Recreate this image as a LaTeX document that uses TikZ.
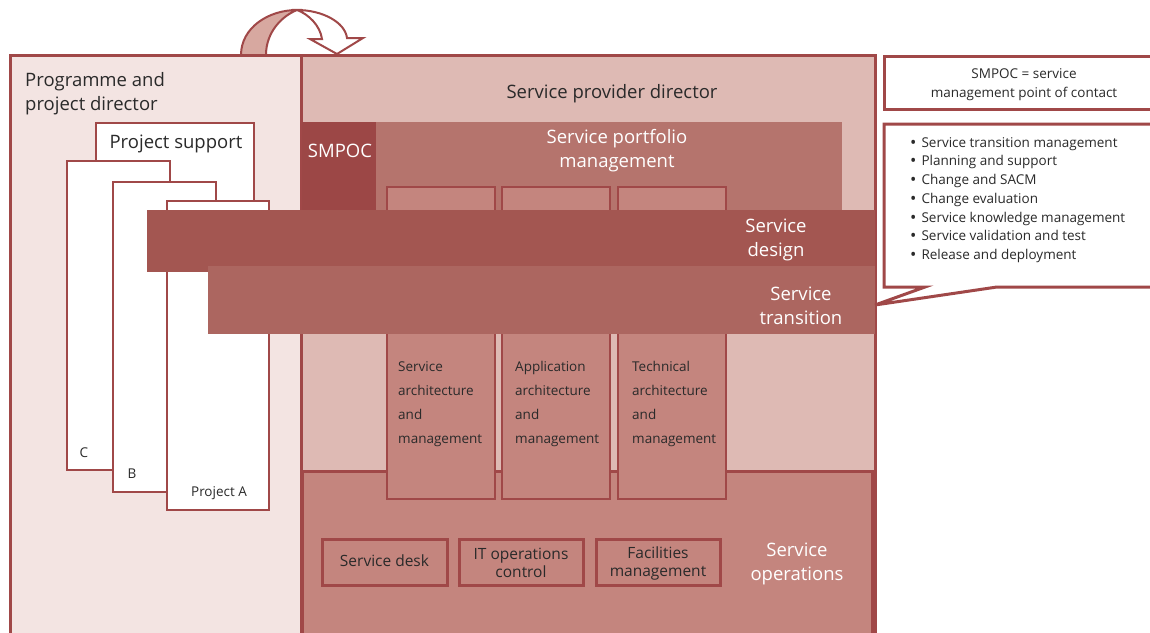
\documentclass[tikz,border=0pt]{standalone}
\usepackage{fontspec}
\setmainfont{Open Sans}
\definecolor{bord}{HTML}{A04848}
\definecolor{leftfill}{HTML}{F3E4E2}
\definecolor{rightfill}{HTML}{DEBAB4}
\definecolor{smpocfill}{HTML}{9C4746}
\definecolor{portfill}{HTML}{B5746D}
\definecolor{colfill}{HTML}{C4857E}
\definecolor{desfill}{HTML}{A35651}
\definecolor{transfill}{HTML}{AC6660}
\definecolor{arrowfill}{HTML}{D7A8A0}
\definecolor{txt}{HTML}{2A2A2A}
\tikzset{
  frame/.style={draw=bord, line width=3pt},
  thinframe/.style={draw=bord, line width=2pt},
  big/.style={font=\fontsize{18.5}{24}\selectfont, align=center, inner sep=0pt, yshift=-2.5pt},
  mid/.style={font=\fontsize{15.5}{18}\selectfont, align=center, inner sep=0pt, text=txt},
  small/.style={font=\fontsize{13.5}{18.7}\selectfont, inner sep=0pt, text=txt, yshift=-2pt},
  coltext/.style={font=\fontsize{13.5}{24}\selectfont, align=left, inner sep=0pt, text=txt, anchor=west, yshift=-2pt},
}
\newcommand{\bul}{\raisebox{-1pt}{\scalebox{1.25}{\textbullet}}\hspace{5pt}}
\begin{document}
\begin{tikzpicture}[x=1pt,y=-1pt]
\useasboundingbox (0,0) rectangle (1150,632);
% left and right main boxes
\path[frame, fill=leftfill] (10,55) rectangle (301,640);
\path[frame, fill=rightfill] (301,55) rectangle (875,640);
\node[big, text=txt] (spd) at (612,91) {Service provider director};
\node[big, text=txt, align=left, anchor=west] (ppd) at (25,91) {Programme and\\project director};
% portfolio and smpoc
\path[fill=portfill] (376,122) rectangle (842,212);
\path[fill=smpocfill] (302,122) rectangle (376,212);
\node[big, text=white] (smpoc) at (340,148) {SMPOC};
\node[big, text=white] (spm) at (617,148) {Service portfolio\\management};
% operations
\path[frame, fill=colfill] (302,471) rectangle (872,640);
% columns
\path[thinframe, fill=colfill] (387,187) rectangle (495,499);
\path[thinframe, fill=colfill] (502,187) rectangle (610,499);
\path[thinframe, fill=colfill] (618,187) rectangle (726,499);
\node[coltext] (c1) at (398,402) {Service\\architecture\\and\\management};
\node[coltext] (c2) at (515,402) {Application\\architecture\\and\\management};
\node[coltext] (c3) at (632,402) {Technical\\architecture\\and\\management};
% operations content
\path[frame, fill=colfill] (322,539) rectangle (447,585);
\path[frame, fill=colfill] (459,539) rectangle (583,585);
\path[frame, fill=colfill] (596,539) rectangle (720,585);
\node[mid] (sd) at (384.5,561) {Service desk};
\node[mid] (itoc) at (521,563) {IT operations\\control};
\node[mid] (fm) at (658,563) {Facilities\\management};
\node[big, text=white] (so) at (797,561) {Service\\operations};
% project boxes
\path[thinframe, fill=white] (96,123) rectangle (254,300);
\node[big, text=txt] (ps) at (176,141) {Project support};
\path[thinframe, fill=white] (67,161) rectangle (170,470);
\path[thinframe, fill=white] (113,182) rectangle (216,492);
\path[thinframe, fill=white] (167,201) rectangle (269,510);
\node[small] (lc) at (84,451) {C};
\node[small] (lb) at (132,472) {B};
\node[small] (la) at (219,491) {Project A};
% bands
\path[fill=desfill] (147,210) rectangle (875,272);
\path[fill=transfill] (208,266) rectangle (875,334);
\node[big, text=white] (sdes) at (776,237) {Service\\design};
\node[big, text=white] (strans) at (801,303) {Service\\transition};
% legend
\path[frame, fill=white] (884,56) rectangle (1160,109);
\node[small, align=center] (leg) at (1024,82.5) {SMPOC = service\\management point of contact};
% callout
\path[frame, fill=white] (884,124) -- (1160,124) -- (1160,287) -- (997,287) -- (875,305) -- (925,287) -- (884,287) -- cycle;
\node[small, align=left, anchor=west] (bullets) at (910,198) {%
\bul Service transition management\\
\bul Planning and support\\
\bul Change and SACM\\
\bul Change evaluation\\
\bul Service knowledge management\\
\bul Service validation and test\\
\bul Release and deployment};
% curved arrow
\path[draw=bord, line width=2pt, fill=arrowfill] (241,55) .. controls (241,28) and (268,10) .. (297,10) .. controls (282,16) and (266,32) .. (266,55) -- cycle;
\path[draw=bord, line width=2pt, fill=white] (297,10) .. controls (322,10) and (345,22) .. (347,38) -- (363,38) -- (337,54) -- (310,39) -- (322,39) .. controls (320,25) and (308,14) .. (297,10) -- cycle;
\end{tikzpicture}
\end{document}
